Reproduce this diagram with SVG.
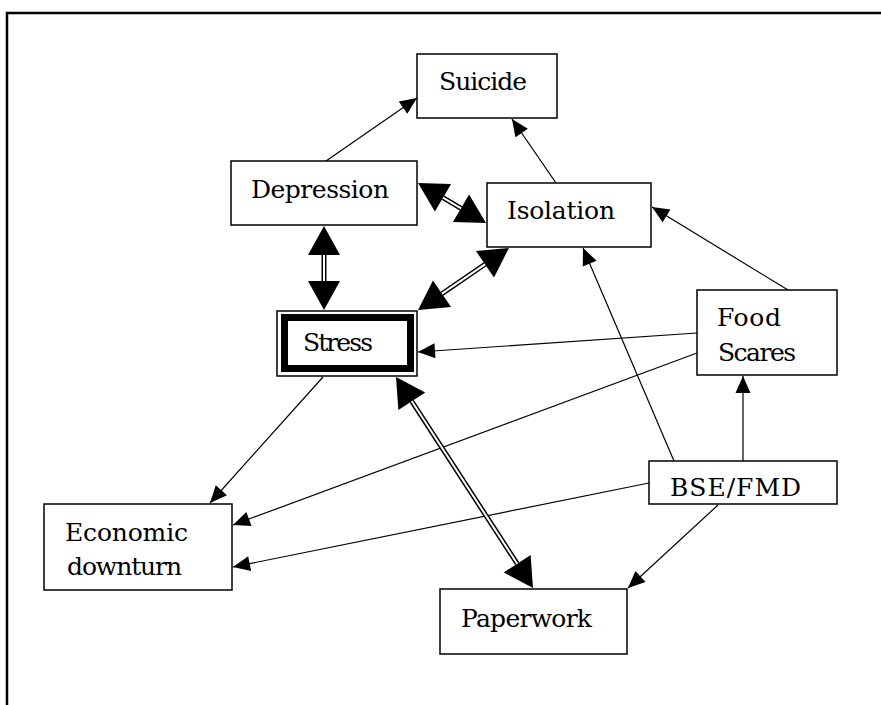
<svg xmlns="http://www.w3.org/2000/svg" width="881" height="705" viewBox="0 0 881 705">
<style>
.box{fill:#fff;stroke:#000;stroke-width:1.5}
.t{font-family:"DejaVu Serif","Liberation Serif",serif;font-size:25px;fill:#000}
.s{fill:none;stroke:#000;stroke-width:1.2;marker-end:url(#sm)}
.dbk{fill:none;stroke:#000;stroke-width:5;marker-start:url(#bg);marker-end:url(#bg)}
.dwh{fill:none;stroke:#fff;stroke-width:2}
</style>
<defs>
<marker id="sm" markerUnits="userSpaceOnUse" markerWidth="17" markerHeight="15" refX="17" refY="7.5" orient="auto" overflow="visible">
<path d="M0,0 L17,7.5 L0,15 z" fill="#000"/>
</marker>
<marker id="bg" markerUnits="userSpaceOnUse" markerWidth="29" markerHeight="32" refX="0" refY="16" orient="auto-start-reverse" overflow="visible">
<path d="M0,0 L29,16 L0,32 z" fill="#000"/>
</marker>
</defs>
<rect x="0" y="0" width="881" height="705" fill="#fff"/>
<rect x="7" y="13" width="900" height="720" fill="none" stroke="#000" stroke-width="2.5"/>

<g id="connectors">
<path class="s" d="M326,161 L417,98"/>
<path class="s" d="M556,183 L512,119"/>
<path class="s" d="M697,333 L418,352"/>
<path class="s" d="M788,290 L652,207"/>
<path class="s" d="M697,353 L233,525"/>
<path class="s" d="M743,461 L743,376"/>
<path class="s" d="M674,461 L583,248"/>
<path class="s" d="M649,483 L233,567"/>
<path class="s" d="M718,505 L628,588"/>
<path class="s" d="M323,377 L210,503"/>
<path class="dbk" d="M443,197.7 L461,208.3"/>
<path class="dwh" d="M443,197.7 L461,208.3"/>
<path class="dbk" d="M324,255 L324,281"/>
<path class="dwh" d="M324,255 L324,281"/>
<path class="dbk" d="M485,264.3 L442,293.7"/>
<path class="dwh" d="M485,264.3 L442,293.7"/>
<path class="dbk" d="M411.8,401.3 L517.2,563.7"/>
<path class="dwh" d="M411.8,401.3 L517.2,563.7"/>
</g>

<g id="suicide">
<rect class="box" x="417" y="54" width="140" height="64"/>
<text class="t" x="439" y="90" textLength="88">Suicide</text>
</g>
<g id="depression">
<rect class="box" x="231" y="161" width="186" height="64"/>
<text class="t" x="251" y="198" textLength="138">Depression</text>
</g>
<g id="isolation">
<rect class="box" x="487" y="183" width="164" height="64"/>
<text class="t" x="507" y="219" textLength="108">Isolation</text>
</g>
<g id="stress">
<rect class="box" x="277" y="311" width="140" height="65"/>
<rect x="284.5" y="317.5" width="126" height="51" fill="none" stroke="#000" stroke-width="7"/>
<text class="t" x="303" y="351" textLength="70">Stress</text>
</g>
<g id="food-scares">
<rect class="box" x="697" y="290" width="140" height="85"/>
<text class="t" x="717" y="326" textLength="64">Food</text>
<text class="t" x="718" y="361" textLength="78">Scares</text>
</g>
<g id="bse-fmd">
<rect class="box" x="649" y="461" width="188" height="43"/>
<text class="t" x="670" y="496" textLength="131">BSE/FMD</text>
</g>
<g id="economic-downturn">
<rect class="box" x="44" y="504" width="188" height="86"/>
<text class="t" x="65" y="541" textLength="123">Economic</text>
<text class="t" x="67" y="575" textLength="115">downturn</text>
</g>
<g id="paperwork">
<rect class="box" x="440" y="589" width="187" height="65"/>
<text class="t" x="461" y="627" textLength="131">Paperwork</text>
</g>
</svg>
